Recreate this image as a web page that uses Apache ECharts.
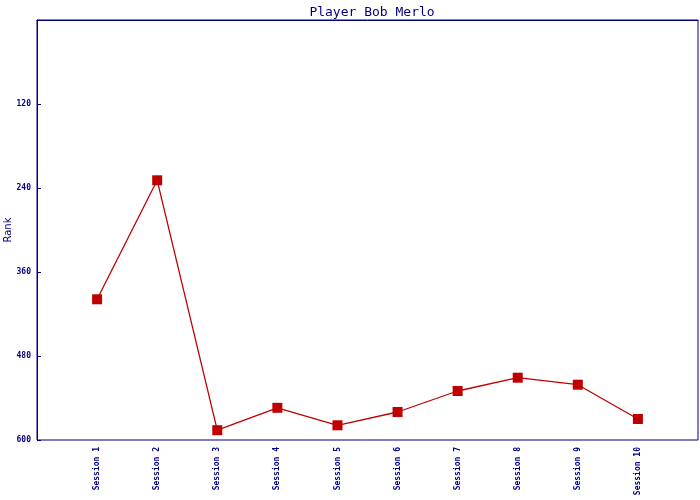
<!DOCTYPE html>
<html><head><meta charset="utf-8">
<script src="https://cdn.jsdelivr.net/npm/echarts@6/dist/echarts.min.js"></script>
<style>html,body{margin:0;padding:0;background:#fff}#c{width:700px;height:500px}</style>
</head><body><div id="c"></div>
<script>
var categories = ['Session 1','Session 2','Session 3','Session 4','Session 5','Session 6','Session 7','Session 8','Session 9','Session 10'];
var rankValues = [399, 229, 586, 554, 579, 560, 530, 511, 521, 570];
var yTicks = [120, 240, 360, 480, 600];

var NAVY = '#000080';
var RED = '#c00000';
// pad categories with empty slots at both ends so points sit one step inside the frame
var xData = [''].concat(categories, ['']);
var yData = [null].concat(rankValues, [null]);

var chart = echarts.init(document.getElementById('c'));
chart.setOption({
  animation: false,
  backgroundColor: '#fff',
  title: {
    text: 'Player Bob Merlo',
    left: 367, top: 1, textAlign: 'center',
    textStyle: { color: NAVY, fontFamily: 'DejaVu Sans Mono', fontSize: 13, fontWeight: 'normal' }
  },
  grid: { left: 37, top: 20, width: 661, height: 420, containLabel: false, outerBoundsMode: 'none',
          show: true, borderColor: NAVY, borderWidth: 1, backgroundColor: 'transparent' },
  xAxis: {
    type: 'category', data: xData, boundaryGap: false,
    axisLine: { lineStyle: { color: NAVY, width: 1 } },
    axisTick: { show: false },
    splitLine: { show: false },
    axisLabel: { rotate: 90, margin: 7, interval: 0, color: NAVY, fontFamily: 'DejaVu Sans Mono', fontSize: 8, fontWeight: 'bold' }
  },
  yAxis: {
    type: 'value', inverse: true, min: 0, max: 600, interval: 120,
    name: 'Rank', nameLocation: 'middle', nameRotate: 90, nameGap: 24, nameMoveOverlap: false,
    nameTextStyle: { color: NAVY, fontFamily: 'DejaVu Sans', fontSize: 10 },
    axisLine: { show: true, lineStyle: { color: NAVY, width: 1 } },
    axisTick: { show: true, inside: true, length: 4, lineStyle: { color: NAVY, width: 1 } },
    splitLine: { show: false },
    axisLabel: {
      margin: 6, color: NAVY, fontFamily: 'DejaVu Sans Mono', fontSize: 8, fontWeight: 'bold',
      formatter: function (v) { return yTicks.indexOf(v) >= 0 ? String(v) : ''; }
    }
  },
  series: [{
    type: 'line', data: yData, connectNulls: false,
    symbol: 'rect', symbolSize: 10,
    lineStyle: { color: RED, width: 1.3 },
    itemStyle: { color: RED },
    emphasis: { disabled: true }
  }]
});
</script></body></html>
